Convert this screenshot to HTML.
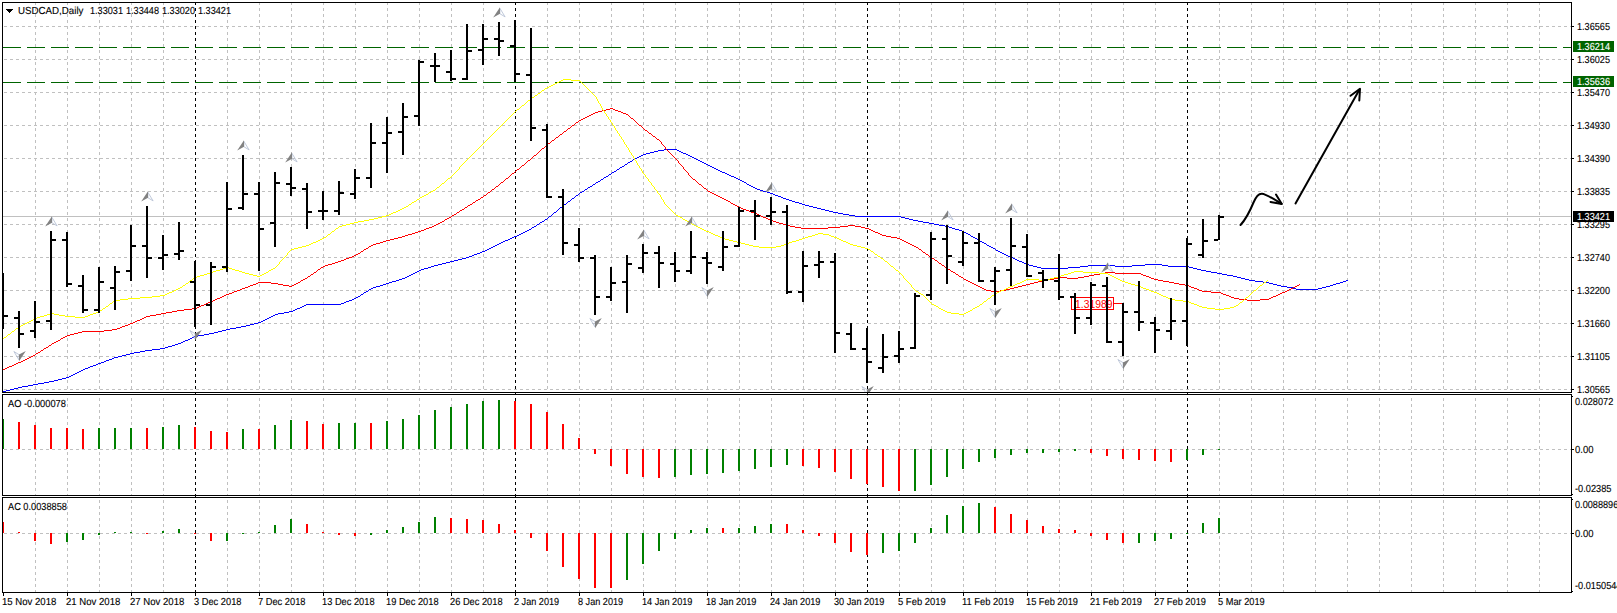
<!DOCTYPE html>
<html><head><meta charset="utf-8"><title>USDCAD,Daily</title>
<style>html,body{margin:0;padding:0;background:#fff;overflow:hidden}body{width:1617px;height:613px;position:relative;font-family:"Liberation Sans",sans-serif;font-size:10.2px;color:#000}svg{position:absolute;left:0;top:0;display:block}.t{position:absolute;white-space:pre;text-rendering:geometricPrecision;-webkit-text-stroke:0.12px currentColor;line-height:12px;height:12px;transform-origin:0 0;font-family:"Liberation Sans",sans-serif}.w{color:#fff}</style></head><body>
<svg width="1617" height="613" viewBox="0 0 1617 613">
<rect x="0" y="0" width="1617" height="613" fill="#fff"/>
<g shape-rendering="crispEdges" stroke="#c0c0c0" stroke-width="1" stroke-dasharray="3 3" fill="none">
<line x1="35.5" y1="2" x2="35.5" y2="592"/>
<line x1="67.5" y1="2" x2="67.5" y2="592"/>
<line x1="99.5" y1="2" x2="99.5" y2="592"/>
<line x1="131.5" y1="2" x2="131.5" y2="592"/>
<line x1="163.5" y1="2" x2="163.5" y2="592"/>
<line x1="227.5" y1="2" x2="227.5" y2="592"/>
<line x1="259.5" y1="2" x2="259.5" y2="592"/>
<line x1="291.5" y1="2" x2="291.5" y2="592"/>
<line x1="323.5" y1="2" x2="323.5" y2="592"/>
<line x1="355.5" y1="2" x2="355.5" y2="592"/>
<line x1="387.5" y1="2" x2="387.5" y2="592"/>
<line x1="419.5" y1="2" x2="419.5" y2="592"/>
<line x1="451.5" y1="2" x2="451.5" y2="592"/>
<line x1="483.5" y1="2" x2="483.5" y2="592"/>
<line x1="547.5" y1="2" x2="547.5" y2="592"/>
<line x1="579.5" y1="2" x2="579.5" y2="592"/>
<line x1="611.5" y1="2" x2="611.5" y2="592"/>
<line x1="643.5" y1="2" x2="643.5" y2="592"/>
<line x1="675.5" y1="2" x2="675.5" y2="592"/>
<line x1="707.5" y1="2" x2="707.5" y2="592"/>
<line x1="739.5" y1="2" x2="739.5" y2="592"/>
<line x1="771.5" y1="2" x2="771.5" y2="592"/>
<line x1="803.5" y1="2" x2="803.5" y2="592"/>
<line x1="835.5" y1="2" x2="835.5" y2="592"/>
<line x1="899.5" y1="2" x2="899.5" y2="592"/>
<line x1="931.5" y1="2" x2="931.5" y2="592"/>
<line x1="963.5" y1="2" x2="963.5" y2="592"/>
<line x1="995.5" y1="2" x2="995.5" y2="592"/>
<line x1="1027.5" y1="2" x2="1027.5" y2="592"/>
<line x1="1059.5" y1="2" x2="1059.5" y2="592"/>
<line x1="1091.5" y1="2" x2="1091.5" y2="592"/>
<line x1="1123.5" y1="2" x2="1123.5" y2="592"/>
<line x1="1155.5" y1="2" x2="1155.5" y2="592"/>
<line x1="1219.5" y1="2" x2="1219.5" y2="592"/>
<line x1="1251.5" y1="2" x2="1251.5" y2="592"/>
<line x1="1283.5" y1="2" x2="1283.5" y2="592"/>
<line x1="1315.5" y1="2" x2="1315.5" y2="592"/>
<line x1="1347.5" y1="2" x2="1347.5" y2="592"/>
<line x1="1379.5" y1="2" x2="1379.5" y2="592"/>
<line x1="1411.5" y1="2" x2="1411.5" y2="592"/>
<line x1="1443.5" y1="2" x2="1443.5" y2="592"/>
<line x1="1475.5" y1="2" x2="1475.5" y2="592"/>
<line x1="1507.5" y1="2" x2="1507.5" y2="592"/>
<line x1="1539.5" y1="2" x2="1539.5" y2="592"/>
<line x1="4" y1="26.5" x2="1571" y2="26.5"/>
<line x1="4" y1="59.5" x2="1571" y2="59.5"/>
<line x1="4" y1="92.5" x2="1571" y2="92.5"/>
<line x1="4" y1="125.5" x2="1571" y2="125.5"/>
<line x1="4" y1="158.5" x2="1571" y2="158.5"/>
<line x1="4" y1="191.5" x2="1571" y2="191.5"/>
<line x1="4" y1="224.5" x2="1571" y2="224.5"/>
<line x1="4" y1="257.5" x2="1571" y2="257.5"/>
<line x1="4" y1="290.5" x2="1571" y2="290.5"/>
<line x1="4" y1="323.5" x2="1571" y2="323.5"/>
<line x1="4" y1="356.5" x2="1571" y2="356.5"/>
<line x1="4" y1="389.5" x2="1571" y2="389.5"/>
<line x1="4" y1="449.5" x2="1571" y2="449.5"/>
<line x1="4" y1="533.5" x2="1571" y2="533.5"/>
</g>
<g shape-rendering="crispEdges" stroke="#000" stroke-width="1" stroke-dasharray="3 3" fill="none">
<line x1="195.5" y1="2" x2="195.5" y2="592"/>
<line x1="515.5" y1="2" x2="515.5" y2="592"/>
<line x1="867.5" y1="2" x2="867.5" y2="592"/>
<line x1="1187.5" y1="2" x2="1187.5" y2="592"/>
</g>
<rect x="3" y="216" width="1568" height="1" fill="#c0c0c0" shape-rendering="crispEdges"/>
<g shape-rendering="crispEdges" stroke="#006400" stroke-width="1" stroke-dasharray="18 6" fill="none">
<line x1="3" y1="47.5" x2="1571" y2="47.5"/>
<line x1="3" y1="82.5" x2="1571" y2="82.5"/>
</g>
<path shape-rendering="crispEdges" fill="none" stroke="#0000ff" stroke-width="1" transform="translate(0,0.5)" d="M664 149h13M658 150h6M677 150h2M654 151h4M679 151h2M650 152h4M681 152h2M646 153h4M683 153h3M643 154h3M686 154h2M641 155h2M688 155h2M639 156h2M690 156h2M637 157h2M692 157h2M635 158h2M694 158h2M633 159h2M696 159h2M632 160h1M698 160h2M630 161h2M700 161h2M628 162h2M702 162h2M627 163h1M704 163h2M625 164h2M706 164h2M624 165h1M708 165h2M622 166h2M710 166h2M620 167h2M712 167h2M619 168h1M714 168h2M617 169h2M716 169h2M616 170h1M718 170h2M614 171h2M720 171h2M612 172h2M722 172h3M611 173h1M725 173h2M609 174h2M727 174h2M608 175h1M729 175h2M606 176h2M731 176h3M604 177h2M734 177h2M603 178h1M736 178h2M601 179h2M738 179h2M600 180h1M740 180h2M598 181h2M742 181h2M596 182h2M744 182h2M595 183h1M746 183h1M593 184h2M747 184h2M592 185h1M749 185h2M590 186h2M751 186h2M588 187h2M753 187h2M587 188h1M755 188h2M585 189h2M757 189h3M584 190h1M760 190h3M582 191h2M763 191h4M580 192h2M767 192h3M579 193h1M770 193h3M578 194h1M773 194h2M576 195h2M775 195h3M575 196h1M778 196h3M574 197h1M781 197h2M572 198h2M783 198h3M571 199h1M786 199h3M570 200h1M789 200h3M568 201h2M792 201h3M567 202h1M795 202h4M566 203h1M799 203h3M564 204h2M802 204h3M563 205h1M805 205h4M562 206h1M809 206h4M560 207h2M813 207h4M559 208h1M817 208h4M558 209h1M821 209h4M557 210h1M825 210h4M556 211h1M829 211h4M554 212h2M833 212h5M553 213h1M838 213h5M552 214h1M843 214h6M551 215h1M849 215h6M549 216h2M855 216h46M548 217h1M901 217h4M547 218h1M905 218h4M545 219h2M909 219h4M544 220h1M913 220h5M542 221h2M918 221h5M540 222h2M923 222h6M539 223h1M929 223h5M537 224h2M934 224h5M536 225h1M939 225h6M534 226h2M945 226h4M532 227h2M949 227h3M531 228h1M952 228h3M529 229h2M955 229h4M527 230h2M959 230h3M525 231h2M962 231h2M523 232h2M964 232h2M521 233h2M966 233h2M519 234h2M968 234h2M517 235h2M970 235h1M514 236h3M971 236h2M512 237h2M973 237h2M510 238h2M975 238h2M508 239h2M977 239h2M505 240h3M979 240h1M503 241h2M980 241h2M501 242h2M982 242h2M499 243h2M984 243h2M497 244h2M986 244h1M495 245h2M987 245h2M493 246h2M989 246h2M491 247h2M991 247h2M489 248h2M993 248h2M487 249h2M995 249h1M485 250h2M996 250h2M482 251h3M998 251h2M480 252h2M1000 252h2M477 253h3M1002 253h2M474 254h3M1004 254h2M472 255h2M1006 255h2M469 256h3M1008 256h2M466 257h3M1010 257h3M462 258h4M1013 258h2M458 259h4M1015 259h2M454 260h4M1017 260h2M450 261h4M1019 261h3M446 262h4M1022 262h2M442 263h4M1024 263h2M438 264h4M1026 264h3M1145 264h17M434 265h4M1029 265h4M1088 265h27M1132 265h13M1162 265h6M431 266h3M1033 266h4M1080 266h8M1115 266h17M1168 266h21M428 267h3M1037 267h4M1068 267h12M1189 267h4M424 268h4M1041 268h27M1193 268h4M421 269h3M1197 269h4M419 270h2M1201 270h5M417 271h2M1206 271h5M415 272h2M1211 272h6M413 273h2M1217 273h5M411 274h2M1222 274h5M409 275h2M1227 275h6M407 276h2M1233 276h4M405 277h2M1237 277h4M402 278h3M1241 278h4M399 279h3M1245 279h4M396 280h3M1249 280h6M1346 280h2M392 281h4M1255 281h8M1343 281h3M389 282h3M1263 282h6M1340 282h3M386 283h3M1269 283h4M1336 283h4M383 284h3M1273 284h4M1333 284h3M380 285h3M1277 285h4M1330 285h3M376 286h4M1281 286h6M1326 286h4M373 287h3M1287 287h6M1322 287h4M371 288h2M1293 288h3M1318 288h4M369 289h2M1296 289h22M368 290h1M366 291h2M364 292h2M363 293h1M361 294h2M360 295h1M358 296h2M356 297h2M354 298h2M352 299h2M349 300h3M346 301h3M344 302h2M341 303h3M306 304h35M304 305h2M302 306h2M300 307h2M297 308h3M295 309h2M293 310h2M289 311h4M284 312h5M278 313h6M275 314h3M273 315h2M271 316h2M269 317h2M267 318h2M265 319h2M263 320h2M261 321h2M258 322h3M254 323h4M250 324h4M246 325h4M241 326h5M236 327h5M230 328h6M226 329h4M222 330h4M218 331h4M214 332h4M209 333h5M204 334h5M198 335h6M194 336h4M192 337h2M190 338h2M188 339h2M185 340h3M183 341h2M181 342h2M178 343h3M175 344h3M172 345h3M168 346h4M165 347h3M160 348h5M152 349h8M145 350h7M140 351h5M134 352h6M130 353h4M126 354h4M122 355h4M118 356h4M114 357h4M112 358h2M109 359h3M106 360h3M104 361h2M101 362h3M98 363h3M96 364h2M93 365h3M90 366h3M88 367h2M85 368h3M83 369h2M81 370h2M79 371h2M77 372h2M75 373h2M73 374h2M71 375h2M69 376h2M66 377h3M62 378h4M58 379h4M54 380h4M49 381h5M44 382h5M38 383h6M33 384h5M28 385h5M22 386h6M18 387h4M14 388h4M10 389h4M6 390h4M3 391h3"/>
<path shape-rendering="crispEdges" fill="none" stroke="#ff0000" stroke-width="1" transform="translate(0,0.5)" d="M610 108h3M606 109h4M613 109h2M602 110h4M615 110h3M598 111h4M618 111h3M595 112h3M621 112h2M593 113h2M623 113h3M591 114h2M626 114h2M589 115h2M628 115h1M587 116h2M629 116h1M585 117h2M630 117h1M583 118h2M631 118h2M581 119h2M633 119h1M579 120h2M634 120h1M578 121h1M635 121h1M576 122h2M636 122h1M575 123h1M637 123h1M574 124h1M638 124h1M572 125h2M639 125h2M571 126h1M641 126h1M570 127h1M642 127h1M568 128h2M643 128h1M567 129h1M644 129h1M566 130h1M645 130h2M564 131h2M647 131h1M563 132h1M648 132h1M562 133h1M649 133h2M560 134h2M651 134h1M559 135h1M652 135h1M558 136h1M653 136h2M556 137h2M655 137h1M555 138h1M656 138h1M554 139h1M657 139h2M552 140h2M659 140h1M551 141h1M660 141h1M550 142h1M661 142h1M548 143h2M661 143h1M547 144h1M662 144h1M546 145h1M663 145h1M545 146h1M664 146h1M544 147h1M665 147h1M542 148h2M665 148h1M541 149h1M666 149h1M540 150h1M667 150h1M539 151h1M668 151h1M538 152h1M669 152h1M537 153h1M670 153h1M536 154h1M671 154h1M534 155h2M672 155h1M533 156h1M673 156h1M532 157h1M674 157h1M531 158h1M675 158h1M530 159h1M676 159h1M528 160h2M677 160h1M527 161h1M678 161h1M526 162h1M678 162h1M525 163h1M679 163h1M524 164h1M680 164h1M522 165h2M681 165h1M521 166h1M682 166h1M520 167h1M683 167h1M519 168h1M683 168h1M517 169h2M684 169h1M516 170h1M685 170h1M515 171h1M686 171h1M514 172h1M687 172h1M512 173h2M688 173h1M511 174h1M688 174h1M510 175h1M689 175h1M509 176h1M690 176h1M508 177h1M691 177h1M506 178h2M692 178h1M505 179h1M693 179h2M504 180h1M695 180h1M503 181h1M696 181h1M501 182h2M697 182h1M500 183h1M698 183h1M499 184h1M699 184h2M498 185h1M701 185h1M496 186h2M702 186h1M495 187h1M703 187h1M494 188h1M704 188h2M492 189h2M706 189h1M491 190h1M707 190h1M490 191h1M708 191h2M488 192h2M710 192h2M487 193h1M712 193h2M486 194h1M714 194h2M484 195h2M716 195h2M483 196h1M718 196h2M481 197h2M720 197h2M480 198h1M722 198h2M478 199h2M724 199h2M476 200h2M726 200h2M475 201h1M728 201h2M473 202h2M730 202h1M472 203h1M731 203h2M470 204h2M733 204h2M468 205h2M735 205h2M467 206h1M737 206h2M465 207h2M739 207h2M464 208h1M741 208h2M462 209h2M743 209h3M460 210h2M746 210h3M459 211h1M749 211h2M457 212h2M751 212h3M456 213h1M754 213h3M454 214h2M757 214h2M452 215h2M759 215h2M451 216h1M761 216h2M449 217h2M763 217h3M447 218h2M766 218h2M445 219h2M768 219h2M444 220h1M770 220h3M442 221h2M773 221h3M440 222h2M776 222h3M438 223h2M779 223h4M436 224h2M783 224h3M434 225h2M786 225h4M848 225h7M432 226h2M790 226h5M840 226h8M855 226h6M429 227h3M795 227h6M828 227h12M861 227h4M426 228h3M801 228h27M865 228h4M424 229h2M869 229h2M421 230h3M871 230h2M418 231h3M873 231h2M415 232h3M875 232h3M412 233h3M878 233h2M408 234h4M880 234h2M405 235h3M882 235h4M402 236h3M886 236h5M398 237h4M891 237h6M394 238h4M897 238h3M390 239h4M900 239h2M386 240h4M902 240h2M383 241h3M904 241h2M380 242h3M906 242h2M376 243h4M908 243h2M373 244h3M910 244h2M371 245h2M912 245h2M369 246h2M914 246h2M368 247h1M916 247h2M366 248h2M918 248h1M364 249h2M919 249h2M363 250h1M921 250h1M361 251h2M922 251h1M360 252h1M923 252h2M358 253h2M925 253h1M356 254h2M926 254h2M354 255h2M928 255h1M352 256h2M929 256h2M349 257h3M931 257h1M346 258h3M932 258h2M344 259h2M934 259h1M341 260h3M935 260h2M338 261h3M937 261h1M335 262h3M938 262h1M332 263h3M939 263h2M328 264h4M941 264h1M325 265h3M942 265h2M323 266h2M944 266h1M321 267h2M945 267h2M320 268h1M947 268h1M318 269h2M948 269h2M317 270h1M950 270h1M316 271h1M951 271h2M314 272h2M953 272h2M1105 272h10M313 273h1M955 273h1M1100 273h5M1115 273h26M311 274h2M956 274h2M1094 274h6M1141 274h2M310 275h1M958 275h1M1089 275h5M1143 275h3M308 276h2M959 276h2M1084 276h5M1146 276h3M307 277h1M961 277h2M1058 277h9M1078 277h6M1149 277h2M305 278h2M963 278h1M1054 278h4M1067 278h11M1151 278h3M303 279h2M964 279h2M1048 279h6M1154 279h4M301 280h2M966 280h2M1042 280h6M1158 280h5M300 281h1M968 281h2M1038 281h4M1163 281h6M258 282h13M298 282h2M970 282h2M1034 282h4M1169 282h5M256 283h2M271 283h7M296 283h2M972 283h2M1030 283h4M1174 283h5M253 284h3M278 284h5M294 284h2M974 284h2M1026 284h4M1179 284h6M1299 284h1M250 285h3M283 285h6M292 285h2M976 285h2M1022 285h4M1185 285h4M1297 285h2M248 286h2M289 286h3M978 286h2M1018 286h4M1189 286h2M1295 286h2M245 287h3M980 287h2M1014 287h4M1191 287h3M1293 287h2M242 288h3M982 288h2M1010 288h4M1194 288h3M1291 288h2M240 289h2M984 289h2M1006 289h4M1197 289h2M1289 289h2M237 290h3M986 290h5M1000 290h6M1199 290h3M1287 290h2M234 291h3M991 291h9M1202 291h9M1285 291h2M232 292h2M1211 292h10M1282 292h3M229 293h3M1221 293h2M1280 293h2M226 294h3M1223 294h3M1278 294h2M224 295h2M1226 295h3M1276 295h2M222 296h2M1229 296h2M1273 296h3M220 297h2M1231 297h3M1271 297h2M217 298h3M1234 298h5M1269 298h2M215 299h2M1239 299h8M1260 299h9M213 300h2M1247 300h13M210 301h3M208 302h2M206 303h2M204 304h2M201 305h3M199 306h2M197 307h2M192 308h5M184 309h8M177 310h7M172 311h5M166 312h6M161 313h5M156 314h5M150 315h6M146 316h4M144 317h2M142 318h2M140 319h2M137 320h3M135 321h2M133 322h2M130 323h3M128 324h2M125 325h3M122 326h3M120 327h2M117 328h3M112 329h5M104 330h8M82 331h22M78 332h4M74 333h4M70 334h4M67 335h3M65 336h2M63 337h2M61 338h2M60 339h1M58 340h2M56 341h2M54 342h2M52 343h2M51 344h1M49 345h2M48 346h1M46 347h2M44 348h2M43 349h1M41 350h2M40 351h1M38 352h2M36 353h2M35 354h1M33 355h2M31 356h2M29 357h2M27 358h2M25 359h2M23 360h2M21 361h2M18 362h3M16 363h2M14 364h2M12 365h2M9 366h3M7 367h2M5 368h2M3 369h2"/>
<path shape-rendering="crispEdges" fill="none" stroke="#ffff00" stroke-width="1" transform="translate(0,0.5)" d="M563 79h8M561 80h2M571 80h9M559 81h2M580 81h1M557 82h2M581 82h1M555 83h2M582 83h1M553 84h2M583 84h1M551 85h2M584 85h1M549 86h2M585 86h1M547 87h2M586 87h1M545 88h2M587 88h1M544 89h1M588 89h1M542 90h2M589 90h1M541 91h1M590 91h1M540 92h1M591 92h1M538 93h2M592 93h1M537 94h1M593 94h1M535 95h2M594 95h1M534 96h1M595 96h1M532 97h2M596 97h1M531 98h1M596 98h1M530 99h1M597 99h1M528 100h2M597 100h1M527 101h1M598 101h1M526 102h1M598 102h1M525 103h1M599 103h1M524 104h1M600 104h1M522 105h2M600 105h1M521 106h1M601 106h1M520 107h1M601 107h1M519 108h1M602 108h1M517 109h2M602 109h1M516 110h1M603 110h1M515 111h1M604 111h1M514 112h1M604 112h1M513 113h1M605 113h1M512 114h1M606 114h1M511 115h1M606 115h1M510 116h1M607 116h1M509 117h1M608 117h1M508 118h1M608 118h1M507 119h1M609 119h1M506 120h1M610 120h1M505 121h1M610 121h1M504 122h1M611 122h1M503 123h1M612 123h1M502 124h1M612 124h1M501 125h1M613 125h1M500 126h1M614 126h1M499 127h1M614 127h1M498 128h1M615 128h1M497 129h1M615 129h1M496 130h1M616 130h1M495 131h1M617 131h1M494 132h1M617 132h1M493 133h1M618 133h1M492 134h1M619 134h1M491 135h1M619 135h1M490 136h1M620 136h1M489 137h1M621 137h1M488 138h1M621 138h1M487 139h1M622 139h1M486 140h1M623 140h1M485 141h1M623 141h1M484 142h1M624 142h1M483 143h1M624 143h1M482 144h1M625 144h1M481 145h1M626 145h1M480 146h1M626 146h1M479 147h1M627 147h1M478 148h1M628 148h1M477 149h1M628 149h1M476 150h1M629 150h1M475 151h1M629 151h1M474 152h1M630 152h1M473 153h1M631 153h1M472 154h1M631 154h1M471 155h1M632 155h1M470 156h1M633 156h1M469 157h1M633 157h1M468 158h1M634 158h1M467 159h1M634 159h1M466 160h1M635 160h1M465 161h1M636 161h1M464 162h1M636 162h1M463 163h1M637 163h1M462 164h1M637 164h1M461 165h1M638 165h1M460 166h1M639 166h1M459 167h1M639 167h1M459 168h1M640 168h1M458 169h1M641 169h1M457 170h1M641 170h1M456 171h1M642 171h1M455 172h1M642 172h1M454 173h1M643 173h1M453 174h1M644 174h1M452 175h1M645 175h1M451 176h1M645 176h1M450 177h1M646 177h1M448 178h2M647 178h1M447 179h1M648 179h1M446 180h1M648 180h1M445 181h1M649 181h1M444 182h1M650 182h1M442 183h2M651 183h1M441 184h1M651 184h1M440 185h1M652 185h1M439 186h1M653 186h1M437 187h2M654 187h1M436 188h1M654 188h1M435 189h1M655 189h1M433 190h2M656 190h1M431 191h2M657 191h1M429 192h2M657 192h1M428 193h1M658 193h1M426 194h2M659 194h1M424 195h2M660 195h1M422 196h2M660 196h1M420 197h2M661 197h1M419 198h1M661 198h1M417 199h2M662 199h1M416 200h1M663 200h1M414 201h2M663 201h1M412 202h2M664 202h1M411 203h1M664 203h1M409 204h2M665 204h1M408 205h1M666 205h1M406 206h2M667 206h1M404 207h2M668 207h1M402 208h2M669 208h1M400 209h2M670 209h1M398 210h2M671 210h1M396 211h2M672 211h1M393 212h3M673 212h1M391 213h2M674 213h1M389 214h2M675 214h1M386 215h3M676 215h2M382 216h4M678 216h2M378 217h4M680 217h2M374 218h4M682 218h1M369 219h5M683 219h2M364 220h5M685 220h2M358 221h6M687 221h2M354 222h4M689 222h2M350 223h4M691 223h1M346 224h4M692 224h2M342 225h4M694 225h2M339 226h3M696 226h2M338 227h1M698 227h2M336 228h2M700 228h2M335 229h1M702 229h2M334 230h1M704 230h2M332 231h2M706 231h3M331 232h1M709 232h2M330 233h1M711 233h2M818 233h5M328 234h2M713 234h2M815 234h3M823 234h6M327 235h1M715 235h3M812 235h3M829 235h2M326 236h1M718 236h2M808 236h4M831 236h3M324 237h2M720 237h2M805 237h3M834 237h3M322 238h2M722 238h3M802 238h3M837 238h2M320 239h2M725 239h4M799 239h3M839 239h2M318 240h2M729 240h4M796 240h3M841 240h2M316 241h2M733 241h4M792 241h4M843 241h3M313 242h3M737 242h4M789 242h3M846 242h2M311 243h2M741 243h4M786 243h3M848 243h2M309 244h2M745 244h4M784 244h2M850 244h3M306 245h3M749 245h4M781 245h3M853 245h4M302 246h4M753 246h6M776 246h5M857 246h4M298 247h4M759 247h17M861 247h4M294 248h4M865 248h3M291 249h3M868 249h2M290 250h1M870 250h1M289 251h1M871 251h2M288 252h1M873 252h1M287 253h1M874 253h1M287 254h1M875 254h2M286 255h1M877 255h1M285 256h1M878 256h2M284 257h1M880 257h1M283 258h1M881 258h2M282 259h1M883 259h1M281 260h1M884 260h1M280 261h1M885 261h2M279 262h1M887 262h1M279 263h1M888 263h1M278 264h1M889 264h1M277 265h1M890 265h1M276 266h1M891 266h2M226 267h3M275 267h1M893 267h1M223 268h3M229 268h3M273 268h2M894 268h1M220 269h3M232 269h3M271 269h2M895 269h1M216 270h4M235 270h4M269 270h2M896 270h2M213 271h3M239 271h3M268 271h1M898 271h1M1074 271h9M210 272h3M242 272h3M266 272h2M899 272h1M1071 272h3M1083 272h16M207 273h3M245 273h4M264 273h2M900 273h1M1068 273h3M1099 273h9M204 274h3M249 274h4M262 274h2M901 274h1M1064 274h4M1108 274h2M200 275h4M253 275h4M260 275h2M902 275h1M1061 275h3M1110 275h2M197 276h3M257 276h3M903 276h1M1058 276h3M1112 276h2M195 277h2M903 277h1M1054 277h4M1114 277h2M193 278h2M904 278h1M1050 278h4M1116 278h2M192 279h1M905 279h1M1026 279h13M1046 279h4M1118 279h2M190 280h2M906 280h1M1024 280h2M1039 280h7M1120 280h2M1267 280h1M189 281h1M907 281h1M1022 281h2M1122 281h3M1266 281h1M188 282h1M908 282h1M1020 282h2M1125 282h3M1264 282h2M186 283h2M909 283h1M1017 283h3M1128 283h3M1263 283h1M185 284h1M910 284h1M1015 284h2M1131 284h4M1262 284h1M183 285h2M911 285h1M1013 285h2M1135 285h3M1260 285h2M182 286h1M911 286h1M1010 286h3M1138 286h3M1259 286h1M180 287h2M912 287h1M1008 287h2M1141 287h2M1258 287h1M178 288h2M913 288h1M1006 288h2M1143 288h3M1257 288h1M176 289h2M914 289h1M1004 289h2M1146 289h3M1256 289h1M174 290h2M915 290h1M1001 290h3M1149 290h2M1254 290h2M172 291h2M916 291h2M999 291h2M1151 291h3M1253 291h1M169 292h3M918 292h1M997 292h2M1154 292h3M1252 292h1M167 293h2M919 293h2M995 293h2M1157 293h2M1251 293h1M165 294h2M921 294h2M994 294h1M1159 294h2M1250 294h1M160 295h5M923 295h1M992 295h2M1161 295h2M1249 295h1M152 296h8M924 296h1M991 296h1M1163 296h3M1248 296h1M140 297h12M925 297h1M990 297h1M1166 297h2M1246 297h2M128 298h12M926 298h1M988 298h2M1168 298h2M1245 298h1M120 299h8M927 299h1M987 299h1M1170 299h5M1244 299h1M115 300h5M928 300h1M986 300h1M1175 300h8M1243 300h1M113 301h2M929 301h1M984 301h2M1183 301h6M1242 301h1M112 302h1M930 302h1M983 302h1M1189 302h2M1240 302h2M110 303h2M931 303h1M982 303h1M1191 303h3M1239 303h1M109 304h1M932 304h2M980 304h2M1194 304h3M1238 304h1M108 305h1M934 305h2M979 305h1M1197 305h2M1236 305h2M106 306h2M936 306h2M977 306h2M1199 306h3M1234 306h2M105 307h1M938 307h1M975 307h2M1202 307h5M1230 307h4M103 308h2M939 308h2M973 308h2M1207 308h8M1224 308h6M102 309h1M941 309h2M972 309h1M1215 309h9M100 310h2M943 310h2M970 310h2M98 311h2M945 311h2M968 311h2M96 312h2M947 312h4M966 312h2M50 313h4M93 313h3M951 313h8M964 313h2M47 314h3M54 314h5M90 314h3M959 314h5M44 315h3M59 315h6M88 315h2M40 316h4M65 316h10M85 316h3M37 317h3M75 317h10M35 318h2M33 319h2M31 320h2M29 321h2M27 322h2M25 323h2M23 324h2M21 325h2M19 326h2M18 327h1M16 328h2M15 329h1M14 330h1M12 331h2M11 332h1M10 333h1M8 334h2M7 335h1M6 336h1M4 337h2M3 338h1"/>
<g shape-rendering="crispEdges">
<rect x="1071.5" y="297.5" width="42" height="12" fill="none" stroke="#ff0000" stroke-width="1"/>
<rect x="1114" y="303" width="10" height="1" fill="#ff0000"/>
</g>
<text x="1075" y="308" font-family="Liberation Sans, sans-serif" font-size="11" fill="#ff0000" textLength="37.4" lengthAdjust="spacingAndGlyphs">1.31989</text>
<g shape-rendering="crispEdges" fill="#000">
<rect x="2" y="273" width="2" height="56"/>
<rect x="4" y="315" width="4" height="2"/>
<rect x="18" y="311" width="2" height="37"/>
<rect x="14" y="317" width="4" height="2"/>
<rect x="20" y="333" width="4" height="2"/>
<rect x="34" y="301" width="2" height="37"/>
<rect x="30" y="330" width="4" height="2"/>
<rect x="36" y="321" width="4" height="2"/>
<rect x="50" y="231" width="2" height="99"/>
<rect x="46" y="320" width="4" height="2"/>
<rect x="52" y="239" width="4" height="2"/>
<rect x="66" y="232" width="2" height="55"/>
<rect x="62" y="239" width="4" height="2"/>
<rect x="68" y="283" width="4" height="2"/>
<rect x="82" y="275" width="2" height="38"/>
<rect x="78" y="285" width="4" height="2"/>
<rect x="84" y="309" width="4" height="2"/>
<rect x="98" y="267" width="2" height="46"/>
<rect x="94" y="309" width="4" height="2"/>
<rect x="100" y="281" width="4" height="2"/>
<rect x="114" y="266" width="2" height="44"/>
<rect x="110" y="287" width="4" height="2"/>
<rect x="116" y="271" width="4" height="2"/>
<rect x="130" y="225" width="2" height="56"/>
<rect x="126" y="270" width="4" height="2"/>
<rect x="132" y="245" width="4" height="2"/>
<rect x="146" y="206" width="2" height="72"/>
<rect x="142" y="245" width="4" height="2"/>
<rect x="148" y="257" width="4" height="2"/>
<rect x="162" y="235" width="2" height="35"/>
<rect x="158" y="257" width="4" height="2"/>
<rect x="164" y="254" width="4" height="2"/>
<rect x="178" y="222" width="2" height="38"/>
<rect x="174" y="253" width="4" height="2"/>
<rect x="180" y="250" width="4" height="2"/>
<rect x="194" y="261" width="2" height="66"/>
<rect x="190" y="281" width="4" height="2"/>
<rect x="196" y="304" width="4" height="2"/>
<rect x="210" y="262" width="2" height="63"/>
<rect x="206" y="304" width="4" height="2"/>
<rect x="212" y="266" width="4" height="2"/>
<rect x="226" y="182" width="2" height="90"/>
<rect x="222" y="266" width="4" height="2"/>
<rect x="228" y="208" width="4" height="2"/>
<rect x="242" y="155" width="2" height="55"/>
<rect x="238" y="207" width="4" height="2"/>
<rect x="244" y="193" width="4" height="2"/>
<rect x="258" y="182" width="2" height="89"/>
<rect x="254" y="193" width="4" height="2"/>
<rect x="260" y="228" width="4" height="2"/>
<rect x="274" y="172" width="2" height="75"/>
<rect x="270" y="222" width="4" height="2"/>
<rect x="276" y="182" width="4" height="2"/>
<rect x="290" y="167" width="2" height="29"/>
<rect x="286" y="183" width="4" height="2"/>
<rect x="292" y="187" width="4" height="2"/>
<rect x="306" y="183" width="2" height="46"/>
<rect x="302" y="188" width="4" height="2"/>
<rect x="308" y="211" width="4" height="2"/>
<rect x="322" y="191" width="2" height="29"/>
<rect x="318" y="210" width="4" height="2"/>
<rect x="324" y="210" width="4" height="2"/>
<rect x="338" y="181" width="2" height="34"/>
<rect x="334" y="210" width="4" height="2"/>
<rect x="340" y="192" width="4" height="2"/>
<rect x="354" y="169" width="2" height="30"/>
<rect x="350" y="193" width="4" height="2"/>
<rect x="356" y="177" width="4" height="2"/>
<rect x="370" y="123" width="2" height="65"/>
<rect x="366" y="177" width="4" height="2"/>
<rect x="372" y="142" width="4" height="2"/>
<rect x="386" y="117" width="2" height="56"/>
<rect x="382" y="142" width="4" height="2"/>
<rect x="388" y="132" width="4" height="2"/>
<rect x="402" y="103" width="2" height="52"/>
<rect x="398" y="131" width="4" height="2"/>
<rect x="404" y="116" width="4" height="2"/>
<rect x="418" y="60" width="2" height="66"/>
<rect x="414" y="115" width="4" height="2"/>
<rect x="420" y="61" width="4" height="2"/>
<rect x="434" y="53" width="2" height="29"/>
<rect x="430" y="65" width="4" height="2"/>
<rect x="436" y="65" width="4" height="2"/>
<rect x="450" y="50" width="2" height="31"/>
<rect x="446" y="71" width="4" height="2"/>
<rect x="452" y="78" width="4" height="2"/>
<rect x="466" y="24" width="2" height="56"/>
<rect x="462" y="78" width="4" height="2"/>
<rect x="468" y="50" width="4" height="2"/>
<rect x="482" y="24" width="2" height="41"/>
<rect x="478" y="49" width="4" height="2"/>
<rect x="484" y="38" width="4" height="2"/>
<rect x="498" y="22" width="2" height="34"/>
<rect x="494" y="38" width="4" height="2"/>
<rect x="500" y="40" width="4" height="2"/>
<rect x="514" y="20" width="2" height="62"/>
<rect x="510" y="45" width="4" height="2"/>
<rect x="516" y="73" width="4" height="2"/>
<rect x="530" y="28" width="2" height="113"/>
<rect x="526" y="74" width="4" height="2"/>
<rect x="532" y="127" width="4" height="2"/>
<rect x="546" y="124" width="2" height="74"/>
<rect x="542" y="129" width="4" height="2"/>
<rect x="548" y="196" width="4" height="2"/>
<rect x="562" y="189" width="2" height="66"/>
<rect x="558" y="196" width="4" height="2"/>
<rect x="564" y="242" width="4" height="2"/>
<rect x="578" y="228" width="2" height="34"/>
<rect x="574" y="244" width="4" height="2"/>
<rect x="580" y="257" width="4" height="2"/>
<rect x="594" y="255" width="2" height="60"/>
<rect x="590" y="257" width="4" height="2"/>
<rect x="596" y="296" width="4" height="2"/>
<rect x="610" y="267" width="2" height="34"/>
<rect x="606" y="296" width="4" height="2"/>
<rect x="612" y="282" width="4" height="2"/>
<rect x="626" y="255" width="2" height="58"/>
<rect x="622" y="281" width="4" height="2"/>
<rect x="628" y="263" width="4" height="2"/>
<rect x="642" y="244" width="2" height="29"/>
<rect x="638" y="267" width="4" height="2"/>
<rect x="644" y="252" width="4" height="2"/>
<rect x="658" y="246" width="2" height="42"/>
<rect x="654" y="252" width="4" height="2"/>
<rect x="660" y="262" width="4" height="2"/>
<rect x="674" y="252" width="2" height="30"/>
<rect x="670" y="263" width="4" height="2"/>
<rect x="676" y="270" width="4" height="2"/>
<rect x="690" y="231" width="2" height="43"/>
<rect x="686" y="270" width="4" height="2"/>
<rect x="692" y="256" width="4" height="2"/>
<rect x="706" y="252" width="2" height="32"/>
<rect x="702" y="257" width="4" height="2"/>
<rect x="708" y="262" width="4" height="2"/>
<rect x="722" y="231" width="2" height="40"/>
<rect x="718" y="266" width="4" height="2"/>
<rect x="724" y="246" width="4" height="2"/>
<rect x="738" y="207" width="2" height="40"/>
<rect x="734" y="245" width="4" height="2"/>
<rect x="740" y="210" width="4" height="2"/>
<rect x="754" y="200" width="2" height="40"/>
<rect x="750" y="210" width="4" height="2"/>
<rect x="756" y="215" width="4" height="2"/>
<rect x="770" y="197" width="2" height="28"/>
<rect x="766" y="215" width="4" height="2"/>
<rect x="772" y="211" width="4" height="2"/>
<rect x="786" y="205" width="2" height="89"/>
<rect x="782" y="211" width="4" height="2"/>
<rect x="788" y="291" width="4" height="2"/>
<rect x="802" y="251" width="2" height="51"/>
<rect x="798" y="291" width="4" height="2"/>
<rect x="804" y="265" width="4" height="2"/>
<rect x="818" y="251" width="2" height="27"/>
<rect x="814" y="264" width="4" height="2"/>
<rect x="820" y="261" width="4" height="2"/>
<rect x="834" y="253" width="2" height="100"/>
<rect x="830" y="261" width="4" height="2"/>
<rect x="836" y="332" width="4" height="2"/>
<rect x="850" y="323" width="2" height="27"/>
<rect x="846" y="333" width="4" height="2"/>
<rect x="852" y="348" width="4" height="2"/>
<rect x="866" y="328" width="2" height="55"/>
<rect x="862" y="348" width="4" height="2"/>
<rect x="868" y="361" width="4" height="2"/>
<rect x="882" y="334" width="2" height="39"/>
<rect x="878" y="367" width="4" height="2"/>
<rect x="884" y="356" width="4" height="2"/>
<rect x="898" y="331" width="2" height="32"/>
<rect x="894" y="355" width="4" height="2"/>
<rect x="900" y="348" width="4" height="2"/>
<rect x="914" y="293" width="2" height="56"/>
<rect x="910" y="347" width="4" height="2"/>
<rect x="916" y="295" width="4" height="2"/>
<rect x="930" y="232" width="2" height="68"/>
<rect x="926" y="294" width="4" height="2"/>
<rect x="932" y="238" width="4" height="2"/>
<rect x="946" y="225" width="2" height="59"/>
<rect x="942" y="238" width="4" height="2"/>
<rect x="948" y="255" width="4" height="2"/>
<rect x="962" y="231" width="2" height="35"/>
<rect x="958" y="261" width="4" height="2"/>
<rect x="964" y="242" width="4" height="2"/>
<rect x="978" y="233" width="2" height="49"/>
<rect x="974" y="242" width="4" height="2"/>
<rect x="980" y="280" width="4" height="2"/>
<rect x="994" y="267" width="2" height="38"/>
<rect x="990" y="280" width="4" height="2"/>
<rect x="996" y="270" width="4" height="2"/>
<rect x="1010" y="218" width="2" height="68"/>
<rect x="1006" y="269" width="4" height="2"/>
<rect x="1012" y="245" width="4" height="2"/>
<rect x="1026" y="234" width="2" height="43"/>
<rect x="1022" y="246" width="4" height="2"/>
<rect x="1028" y="275" width="4" height="2"/>
<rect x="1042" y="270" width="2" height="18"/>
<rect x="1038" y="272" width="4" height="2"/>
<rect x="1044" y="279" width="4" height="2"/>
<rect x="1058" y="254" width="2" height="46"/>
<rect x="1054" y="280" width="4" height="2"/>
<rect x="1060" y="296" width="4" height="2"/>
<rect x="1074" y="293" width="2" height="41"/>
<rect x="1070" y="296" width="4" height="2"/>
<rect x="1076" y="317" width="4" height="2"/>
<rect x="1090" y="282" width="2" height="43"/>
<rect x="1086" y="317" width="4" height="2"/>
<rect x="1092" y="284" width="4" height="2"/>
<rect x="1106" y="277" width="2" height="66"/>
<rect x="1102" y="285" width="4" height="2"/>
<rect x="1108" y="341" width="4" height="2"/>
<rect x="1122" y="303" width="2" height="53"/>
<rect x="1118" y="341" width="4" height="2"/>
<rect x="1124" y="311" width="4" height="2"/>
<rect x="1138" y="281" width="2" height="50"/>
<rect x="1134" y="311" width="4" height="2"/>
<rect x="1140" y="321" width="4" height="2"/>
<rect x="1154" y="317" width="2" height="36"/>
<rect x="1150" y="322" width="4" height="2"/>
<rect x="1156" y="329" width="4" height="2"/>
<rect x="1170" y="298" width="2" height="42"/>
<rect x="1166" y="330" width="4" height="2"/>
<rect x="1172" y="320" width="4" height="2"/>
<rect x="1186" y="238" width="2" height="108"/>
<rect x="1182" y="320" width="4" height="2"/>
<rect x="1188" y="243" width="4" height="2"/>
<rect x="1202" y="219" width="2" height="39"/>
<rect x="1198" y="254" width="4" height="2"/>
<rect x="1204" y="240" width="4" height="2"/>
<rect x="1218" y="215" width="2" height="25"/>
<rect x="1214" y="239" width="4" height="2"/>
<rect x="1220" y="216" width="4" height="2"/>
</g>
<g>
<polygon points="51.9,217.3 57.1,225.9 51.9,222.7" fill="none" stroke="#b9c3d6" stroke-width="0.9" stroke-linejoin="round"/>
<polygon points="52,216.2 45.2,226.4 52,222.8" fill="#828282"/>
<polygon points="147.9,192.3 153.1,200.9 147.9,197.7" fill="none" stroke="#b9c3d6" stroke-width="0.9" stroke-linejoin="round"/>
<polygon points="148,191.2 141.2,201.4 148,197.8" fill="#828282"/>
<polygon points="243.9,141.3 249.1,149.9 243.9,146.7" fill="none" stroke="#b9c3d6" stroke-width="0.9" stroke-linejoin="round"/>
<polygon points="244,140.2 237.2,150.4 244,146.8" fill="#828282"/>
<polygon points="291.9,153.3 297.1,161.9 291.9,158.7" fill="none" stroke="#b9c3d6" stroke-width="0.9" stroke-linejoin="round"/>
<polygon points="292,152.2 285.2,162.4 292,158.8" fill="#828282"/>
<polygon points="499.9,8.3 505.1,16.9 499.9,13.7" fill="none" stroke="#b9c3d6" stroke-width="0.9" stroke-linejoin="round"/>
<polygon points="500,7.2 493.2,17.4 500,13.8" fill="#828282"/>
<polygon points="643.9,230.3 649.1,238.9 643.9,235.7" fill="none" stroke="#b9c3d6" stroke-width="0.9" stroke-linejoin="round"/>
<polygon points="644,229.2 637.2,239.4 644,235.8" fill="#828282"/>
<polygon points="691.9,217.3 697.1,225.9 691.9,222.7" fill="none" stroke="#b9c3d6" stroke-width="0.9" stroke-linejoin="round"/>
<polygon points="692,216.2 685.2,226.4 692,222.8" fill="#828282"/>
<polygon points="771.9,183.3 777.1,191.9 771.9,188.7" fill="none" stroke="#b9c3d6" stroke-width="0.9" stroke-linejoin="round"/>
<polygon points="772,182.2 765.2,192.4 772,188.8" fill="#828282"/>
<polygon points="947.9,211.3 953.1,219.9 947.9,216.7" fill="none" stroke="#b9c3d6" stroke-width="0.9" stroke-linejoin="round"/>
<polygon points="948,210.2 941.2,220.4 948,216.8" fill="#828282"/>
<polygon points="1011.9,204.3 1017.1,212.9 1011.9,209.7" fill="none" stroke="#b9c3d6" stroke-width="0.9" stroke-linejoin="round"/>
<polygon points="1012,203.2 1005.2,213.4 1012,209.8" fill="#828282"/>
<polygon points="1107.9,263.3 1113.1,271.9 1107.9,268.7" fill="none" stroke="#b9c3d6" stroke-width="0.9" stroke-linejoin="round"/>
<polygon points="1108,262.2 1101.2,272.4 1108,268.8" fill="#828282"/>
<polygon points="19.1,360.1 13.9,351.5 19.1,354.7" fill="none" stroke="#b9c3d6" stroke-width="0.9" stroke-linejoin="round"/>
<polygon points="19,361.2 25.8,351 19,354.6" fill="#828282"/>
<polygon points="195.1,339.1 189.9,330.5 195.1,333.7" fill="none" stroke="#b9c3d6" stroke-width="0.9" stroke-linejoin="round"/>
<polygon points="195,340.2 201.8,330 195,333.6" fill="#828282"/>
<polygon points="595.1,327.1 589.9,318.5 595.1,321.7" fill="none" stroke="#b9c3d6" stroke-width="0.9" stroke-linejoin="round"/>
<polygon points="595,328.2 601.8,318 595,321.6" fill="#828282"/>
<polygon points="707.1,296.1 701.9,287.5 707.1,290.7" fill="none" stroke="#b9c3d6" stroke-width="0.9" stroke-linejoin="round"/>
<polygon points="707,297.2 713.8,287 707,290.6" fill="#828282"/>
<polygon points="867.1,395.1 861.9,386.5 867.1,389.7" fill="none" stroke="#b9c3d6" stroke-width="0.9" stroke-linejoin="round"/>
<polygon points="867,396.2 873.8,386 867,389.6" fill="#828282"/>
<polygon points="995.1,317.1 989.9,308.5 995.1,311.7" fill="none" stroke="#b9c3d6" stroke-width="0.9" stroke-linejoin="round"/>
<polygon points="995,318.2 1001.8,308 995,311.6" fill="#828282"/>
<polygon points="1123.1,368.1 1117.9,359.5 1123.1,362.7" fill="none" stroke="#b9c3d6" stroke-width="0.9" stroke-linejoin="round"/>
<polygon points="1123,369.2 1129.8,359 1123,362.6" fill="#828282"/>
</g>
<g fill="none" stroke="#000" stroke-width="2" stroke-linecap="round" stroke-linejoin="round">
<path d="M1240.5,225 C1247,218 1250,211 1253.5,202.5 C1256,196.5 1259,193.5 1262,193.7 C1266,194 1273,198.5 1281.5,203.8"/>
<path d="M1276,194.5 L1281.8,204 L1270.5,202"/>
<path d="M1295.5,203.5 L1359.5,89.5"/>
<path d="M1350.5,95.8 L1360,88.8 L1359.3,100.5"/>
</g>
<g shape-rendering="crispEdges">
<rect x="2" y="419" width="2" height="30" fill="#008000"/>
<rect x="18" y="422" width="2" height="27" fill="#ff0000"/>
<rect x="34" y="425" width="2" height="24" fill="#ff0000"/>
<rect x="50" y="428" width="2" height="21" fill="#ff0000"/>
<rect x="66" y="428" width="2" height="21" fill="#ff0000"/>
<rect x="82" y="429" width="2" height="20" fill="#ff0000"/>
<rect x="98" y="428" width="2" height="21" fill="#008000"/>
<rect x="114" y="428" width="2" height="21" fill="#008000"/>
<rect x="130" y="428" width="2" height="21" fill="#008000"/>
<rect x="146" y="428" width="2" height="21" fill="#ff0000"/>
<rect x="162" y="427" width="2" height="22" fill="#008000"/>
<rect x="178" y="425" width="2" height="24" fill="#008000"/>
<rect x="194" y="427" width="2" height="22" fill="#ff0000"/>
<rect x="210" y="431" width="2" height="18" fill="#ff0000"/>
<rect x="226" y="432" width="2" height="17" fill="#ff0000"/>
<rect x="242" y="429" width="2" height="20" fill="#008000"/>
<rect x="258" y="429" width="2" height="20" fill="#ff0000"/>
<rect x="274" y="425" width="2" height="24" fill="#008000"/>
<rect x="290" y="420" width="2" height="29" fill="#008000"/>
<rect x="306" y="421" width="2" height="28" fill="#ff0000"/>
<rect x="322" y="424" width="2" height="25" fill="#ff0000"/>
<rect x="338" y="423" width="2" height="26" fill="#008000"/>
<rect x="354" y="423" width="2" height="26" fill="#008000"/>
<rect x="370" y="423" width="2" height="26" fill="#ff0000"/>
<rect x="386" y="421" width="2" height="28" fill="#008000"/>
<rect x="402" y="419" width="2" height="30" fill="#008000"/>
<rect x="418" y="415" width="2" height="34" fill="#008000"/>
<rect x="434" y="410" width="2" height="39" fill="#008000"/>
<rect x="450" y="407" width="2" height="42" fill="#008000"/>
<rect x="466" y="404" width="2" height="45" fill="#008000"/>
<rect x="482" y="401" width="2" height="48" fill="#008000"/>
<rect x="498" y="400" width="2" height="49" fill="#008000"/>
<rect x="514" y="401" width="2" height="48" fill="#ff0000"/>
<rect x="530" y="404" width="2" height="45" fill="#ff0000"/>
<rect x="546" y="412" width="2" height="37" fill="#ff0000"/>
<rect x="562" y="424" width="2" height="25" fill="#ff0000"/>
<rect x="578" y="438" width="2" height="11" fill="#ff0000"/>
<rect x="594" y="449" width="2" height="5" fill="#ff0000"/>
<rect x="610" y="449" width="2" height="17" fill="#ff0000"/>
<rect x="626" y="449" width="2" height="25" fill="#ff0000"/>
<rect x="642" y="449" width="2" height="28" fill="#ff0000"/>
<rect x="658" y="449" width="2" height="29" fill="#ff0000"/>
<rect x="674" y="449" width="2" height="28" fill="#008000"/>
<rect x="690" y="449" width="2" height="26" fill="#008000"/>
<rect x="706" y="449" width="2" height="25" fill="#008000"/>
<rect x="722" y="449" width="2" height="24" fill="#008000"/>
<rect x="738" y="449" width="2" height="22" fill="#008000"/>
<rect x="754" y="449" width="2" height="20" fill="#008000"/>
<rect x="770" y="449" width="2" height="18" fill="#008000"/>
<rect x="786" y="449" width="2" height="16" fill="#008000"/>
<rect x="802" y="449" width="2" height="17" fill="#ff0000"/>
<rect x="818" y="449" width="2" height="19" fill="#ff0000"/>
<rect x="834" y="449" width="2" height="23" fill="#ff0000"/>
<rect x="850" y="449" width="2" height="30" fill="#ff0000"/>
<rect x="866" y="449" width="2" height="35" fill="#ff0000"/>
<rect x="882" y="449" width="2" height="38" fill="#ff0000"/>
<rect x="898" y="449" width="2" height="42" fill="#ff0000"/>
<rect x="914" y="449" width="2" height="42" fill="#008000"/>
<rect x="930" y="449" width="2" height="36" fill="#008000"/>
<rect x="946" y="449" width="2" height="28" fill="#008000"/>
<rect x="962" y="449" width="2" height="20" fill="#008000"/>
<rect x="978" y="449" width="2" height="13" fill="#008000"/>
<rect x="994" y="449" width="2" height="9" fill="#008000"/>
<rect x="1010" y="449" width="2" height="6" fill="#008000"/>
<rect x="1026" y="449" width="2" height="4" fill="#008000"/>
<rect x="1042" y="449" width="2" height="4" fill="#008000"/>
<rect x="1058" y="449" width="2" height="3" fill="#008000"/>
<rect x="1074" y="449" width="2" height="2" fill="#008000"/>
<rect x="1090" y="449" width="2" height="4" fill="#ff0000"/>
<rect x="1106" y="449" width="2" height="7" fill="#ff0000"/>
<rect x="1122" y="449" width="2" height="10" fill="#ff0000"/>
<rect x="1138" y="449" width="2" height="11" fill="#ff0000"/>
<rect x="1154" y="449" width="2" height="12" fill="#ff0000"/>
<rect x="1170" y="449" width="2" height="13" fill="#ff0000"/>
<rect x="1186" y="449" width="2" height="11" fill="#008000"/>
<rect x="1202" y="449" width="2" height="6" fill="#008000"/>
<rect x="1218" y="449" width="2" height="1" fill="#008000"/>
<rect x="2" y="522" width="2" height="11" fill="#ff0000"/>
<rect x="18" y="532" width="2" height="1" fill="#ff0000"/>
<rect x="34" y="533" width="2" height="8" fill="#ff0000"/>
<rect x="50" y="533" width="2" height="11" fill="#ff0000"/>
<rect x="66" y="533" width="2" height="9" fill="#008000"/>
<rect x="82" y="533" width="2" height="7" fill="#008000"/>
<rect x="98" y="533" width="2" height="2" fill="#008000"/>
<rect x="114" y="532" width="2" height="1" fill="#008000"/>
<rect x="130" y="532" width="2" height="1" fill="#008000"/>
<rect x="146" y="533" width="2" height="1" fill="#ff0000"/>
<rect x="162" y="531" width="2" height="2" fill="#008000"/>
<rect x="178" y="529" width="2" height="4" fill="#008000"/>
<rect x="194" y="533" width="2" height="1" fill="#ff0000"/>
<rect x="210" y="533" width="2" height="8" fill="#ff0000"/>
<rect x="226" y="533" width="2" height="8" fill="#008000"/>
<rect x="242" y="533" width="2" height="1" fill="#008000"/>
<rect x="258" y="532" width="2" height="1" fill="#008000"/>
<rect x="274" y="525" width="2" height="8" fill="#008000"/>
<rect x="290" y="519" width="2" height="14" fill="#008000"/>
<rect x="306" y="524" width="2" height="9" fill="#ff0000"/>
<rect x="322" y="532" width="2" height="1" fill="#ff0000"/>
<rect x="338" y="533" width="2" height="2" fill="#ff0000"/>
<rect x="354" y="533" width="2" height="3" fill="#ff0000"/>
<rect x="370" y="533" width="2" height="2" fill="#008000"/>
<rect x="386" y="530" width="2" height="3" fill="#008000"/>
<rect x="402" y="527" width="2" height="6" fill="#008000"/>
<rect x="418" y="522" width="2" height="11" fill="#008000"/>
<rect x="434" y="517" width="2" height="16" fill="#008000"/>
<rect x="450" y="518" width="2" height="15" fill="#ff0000"/>
<rect x="466" y="519" width="2" height="14" fill="#ff0000"/>
<rect x="482" y="520" width="2" height="13" fill="#ff0000"/>
<rect x="498" y="524" width="2" height="9" fill="#ff0000"/>
<rect x="514" y="530" width="2" height="3" fill="#ff0000"/>
<rect x="530" y="533" width="2" height="5" fill="#ff0000"/>
<rect x="546" y="533" width="2" height="18" fill="#ff0000"/>
<rect x="562" y="533" width="2" height="34" fill="#ff0000"/>
<rect x="578" y="533" width="2" height="46" fill="#ff0000"/>
<rect x="594" y="533" width="2" height="55" fill="#ff0000"/>
<rect x="610" y="533" width="2" height="55" fill="#ff0000"/>
<rect x="626" y="533" width="2" height="47" fill="#008000"/>
<rect x="642" y="533" width="2" height="31" fill="#008000"/>
<rect x="658" y="533" width="2" height="18" fill="#008000"/>
<rect x="674" y="533" width="2" height="6" fill="#008000"/>
<rect x="690" y="530" width="2" height="3" fill="#008000"/>
<rect x="706" y="528" width="2" height="5" fill="#008000"/>
<rect x="722" y="528" width="2" height="5" fill="#ff0000"/>
<rect x="738" y="528" width="2" height="5" fill="#008000"/>
<rect x="754" y="526" width="2" height="7" fill="#008000"/>
<rect x="770" y="524" width="2" height="9" fill="#008000"/>
<rect x="786" y="524" width="2" height="9" fill="#ff0000"/>
<rect x="802" y="530" width="2" height="3" fill="#ff0000"/>
<rect x="818" y="533" width="2" height="3" fill="#ff0000"/>
<rect x="834" y="533" width="2" height="10" fill="#ff0000"/>
<rect x="850" y="533" width="2" height="19" fill="#ff0000"/>
<rect x="866" y="533" width="2" height="22" fill="#ff0000"/>
<rect x="882" y="533" width="2" height="20" fill="#008000"/>
<rect x="898" y="533" width="2" height="18" fill="#008000"/>
<rect x="914" y="533" width="2" height="10" fill="#008000"/>
<rect x="930" y="528" width="2" height="5" fill="#008000"/>
<rect x="946" y="515" width="2" height="18" fill="#008000"/>
<rect x="962" y="506" width="2" height="27" fill="#008000"/>
<rect x="978" y="503" width="2" height="30" fill="#008000"/>
<rect x="994" y="507" width="2" height="26" fill="#ff0000"/>
<rect x="1010" y="514" width="2" height="19" fill="#ff0000"/>
<rect x="1026" y="520" width="2" height="13" fill="#ff0000"/>
<rect x="1042" y="526" width="2" height="7" fill="#ff0000"/>
<rect x="1058" y="529" width="2" height="4" fill="#ff0000"/>
<rect x="1074" y="530" width="2" height="3" fill="#ff0000"/>
<rect x="1090" y="533" width="2" height="3" fill="#ff0000"/>
<rect x="1106" y="533" width="2" height="7" fill="#ff0000"/>
<rect x="1122" y="533" width="2" height="10" fill="#ff0000"/>
<rect x="1138" y="533" width="2" height="10" fill="#008000"/>
<rect x="1154" y="533" width="2" height="8" fill="#008000"/>
<rect x="1170" y="533" width="2" height="6" fill="#008000"/>
<rect x="1186" y="533" width="2" height="1" fill="#008000"/>
<rect x="1202" y="523" width="2" height="10" fill="#008000"/>
<rect x="1218" y="518" width="2" height="15" fill="#008000"/>
</g>
<g shape-rendering="crispEdges">
<rect x="0" y="393" width="1617" height="1" fill="#fff"/>
<rect x="0" y="496" width="1617" height="1" fill="#fff"/>
<rect x="0" y="0" width="2" height="613" fill="#fff"/>
<rect x="1572" y="0" width="45" height="613" fill="#fff"/>
<rect x="0" y="593" width="1617" height="20" fill="#fff"/>
<rect x="0" y="0" width="1617" height="2" fill="#fff"/>
<rect x="195" y="393" width="1" height="1" fill="#000"/>
<rect x="195" y="496" width="1" height="1" fill="#000"/>
<rect x="515" y="393" width="1" height="1" fill="#000"/>
<rect x="515" y="496" width="1" height="1" fill="#000"/>
<rect x="867" y="393" width="1" height="1" fill="#000"/>
<rect x="867" y="496" width="1" height="1" fill="#000"/>
<rect x="1187" y="393" width="1" height="1" fill="#000"/>
<rect x="1187" y="496" width="1" height="1" fill="#000"/>
<rect x="2" y="2" width="1570" height="1" fill="#000"/>
<rect x="2" y="392" width="1570" height="1" fill="#000"/>
<rect x="2" y="2" width="1" height="391" fill="#000"/>
<rect x="1571" y="2" width="1" height="391" fill="#000"/>
<rect x="2" y="394" width="1570" height="1" fill="#000"/>
<rect x="2" y="495" width="1570" height="1" fill="#000"/>
<rect x="2" y="394" width="1" height="102" fill="#000"/>
<rect x="1571" y="394" width="1" height="102" fill="#000"/>
<rect x="2" y="497" width="1570" height="1" fill="#000"/>
<rect x="2" y="592" width="1570" height="1" fill="#000"/>
<rect x="2" y="497" width="1" height="96" fill="#000"/>
<rect x="1571" y="497" width="1" height="96" fill="#000"/>
<rect x="1572" y="26" width="2" height="1" fill="#000"/>
<rect x="1572" y="59" width="2" height="1" fill="#000"/>
<rect x="1572" y="92" width="2" height="1" fill="#000"/>
<rect x="1572" y="125" width="2" height="1" fill="#000"/>
<rect x="1572" y="158" width="2" height="1" fill="#000"/>
<rect x="1572" y="191" width="2" height="1" fill="#000"/>
<rect x="1572" y="224" width="2" height="1" fill="#000"/>
<rect x="1572" y="257" width="2" height="1" fill="#000"/>
<rect x="1572" y="290" width="2" height="1" fill="#000"/>
<rect x="1572" y="323" width="2" height="1" fill="#000"/>
<rect x="1572" y="356" width="2" height="1" fill="#000"/>
<rect x="1572" y="389" width="2" height="1" fill="#000"/>
<rect x="1572" y="449" width="2" height="1" fill="#000"/>
<rect x="1572" y="533" width="2" height="1" fill="#000"/>
<rect x="1572" y="396" width="1" height="1" fill="#000"/>
<rect x="1572" y="494" width="1" height="1" fill="#000"/>
<rect x="1572" y="499" width="1" height="1" fill="#000"/>
<rect x="1572" y="591" width="1" height="1" fill="#000"/>
<rect x="3" y="593" width="1" height="3" fill="#000"/>
<rect x="67" y="593" width="1" height="3" fill="#000"/>
<rect x="131" y="593" width="1" height="3" fill="#000"/>
<rect x="195" y="593" width="1" height="3" fill="#000"/>
<rect x="259" y="593" width="1" height="3" fill="#000"/>
<rect x="323" y="593" width="1" height="3" fill="#000"/>
<rect x="387" y="593" width="1" height="3" fill="#000"/>
<rect x="451" y="593" width="1" height="3" fill="#000"/>
<rect x="515" y="593" width="1" height="3" fill="#000"/>
<rect x="579" y="593" width="1" height="3" fill="#000"/>
<rect x="643" y="593" width="1" height="3" fill="#000"/>
<rect x="707" y="593" width="1" height="3" fill="#000"/>
<rect x="771" y="593" width="1" height="3" fill="#000"/>
<rect x="835" y="593" width="1" height="3" fill="#000"/>
<rect x="899" y="593" width="1" height="3" fill="#000"/>
<rect x="963" y="593" width="1" height="3" fill="#000"/>
<rect x="1027" y="593" width="1" height="3" fill="#000"/>
<rect x="1091" y="593" width="1" height="3" fill="#000"/>
<rect x="1155" y="593" width="1" height="3" fill="#000"/>
<rect x="1219" y="593" width="1" height="3" fill="#000"/>
<rect x="6" y="9" width="7" height="1" fill="#000"/>
<rect x="7" y="10" width="5" height="1" fill="#000"/>
<rect x="8" y="11" width="3" height="1" fill="#000"/>
<rect x="9" y="12" width="1" height="1" fill="#000"/>
<rect x="1573" y="41" width="41" height="11" fill="#006400"/>
<rect x="1573" y="76" width="41" height="11" fill="#006400"/>
<rect x="1573" y="211" width="41" height="11" fill="#000"/>
</g>
</svg>
<div class="t " style="left:17.9px;top:6.47px;transform:scaleX(0.9551);font-size:10.2px;">USDCAD,Daily</div>
<div class="t " style="left:89.9px;top:6.47px;transform:scaleX(0.8950);font-size:10.2px;">1.33031</div>
<div class="t " style="left:125.9px;top:6.47px;transform:scaleX(0.8950);font-size:10.2px;">1.33448</div>
<div class="t " style="left:161.9px;top:6.47px;transform:scaleX(0.8950);font-size:10.2px;">1.33020</div>
<div class="t " style="left:197.9px;top:6.47px;transform:scaleX(0.8950);font-size:10.2px;">1.33421</div>
<div class="t " style="left:8.2px;top:399.47px;transform:scaleX(0.9132);font-size:10.2px;">AO -0.000078</div>
<div class="t " style="left:8.2px;top:502.47px;transform:scaleX(0.9046);font-size:10.2px;">AC 0.0038858</div>
<div class="t " style="left:1577.4px;top:22.47px;transform:scaleX(0.8950);font-size:10.2px;">1.36565</div>
<div class="t " style="left:1577.4px;top:55.47px;transform:scaleX(0.8950);font-size:10.2px;">1.36025</div>
<div class="t " style="left:1577.4px;top:88.47px;transform:scaleX(0.8950);font-size:10.2px;">1.35470</div>
<div class="t " style="left:1577.4px;top:121.47px;transform:scaleX(0.8950);font-size:10.2px;">1.34930</div>
<div class="t " style="left:1577.4px;top:154.47px;transform:scaleX(0.8950);font-size:10.2px;">1.34390</div>
<div class="t " style="left:1577.4px;top:187.47px;transform:scaleX(0.8950);font-size:10.2px;">1.33835</div>
<div class="t " style="left:1577.4px;top:253.47px;transform:scaleX(0.8950);font-size:10.2px;">1.32740</div>
<div class="t " style="left:1577.4px;top:286.47px;transform:scaleX(0.8950);font-size:10.2px;">1.32200</div>
<div class="t " style="left:1577.4px;top:319.47px;transform:scaleX(0.8950);font-size:10.2px;">1.31660</div>
<div class="t " style="left:1577.4px;top:352.47px;transform:scaleX(0.9138);font-size:10.2px;">1.31105</div>
<div class="t " style="left:1577.4px;top:385.47px;transform:scaleX(0.8950);font-size:10.2px;">1.30565</div>
<div style="position:absolute;left:1572px;top:222px;width:45px;height:12px;overflow:hidden">
<div class="t " style="left:5.4px;top:-1.53px;transform:scaleX(0.8950);font-size:10.2px;">1.33295</div>
</div>
<div class="t w" style="left:1577.4px;top:42.47px;transform:scaleX(0.8950);font-size:10.2px;">1.36214</div>
<div class="t w" style="left:1577.4px;top:77.47px;transform:scaleX(0.8950);font-size:10.2px;">1.35636</div>
<div class="t w" style="left:1577.4px;top:212.47px;transform:scaleX(0.8950);font-size:10.2px;">1.33421</div>
<div class="t " style="left:1575.4px;top:397.47px;transform:scaleX(0.9003);font-size:10.2px;">0.028072</div>
<div class="t " style="left:1575.4px;top:445.47px;transform:scaleX(0.9319);font-size:10.2px;">0.00</div>
<div class="t " style="left:1574.9px;top:484.47px;transform:scaleX(0.9064);font-size:10.2px;">-0.02385</div>
<div class="t " style="left:1575.4px;top:500.47px;transform:scaleX(0.8980);font-size:10.2px;">0.0088896</div>
<div class="t " style="left:1575.4px;top:529.47px;transform:scaleX(0.9319);font-size:10.2px;">0.00</div>
<div class="t " style="left:1574.9px;top:581.47px;transform:scaleX(0.9009);font-size:10.2px;">-0.0150544</div>
<div class="t " style="left:2.4px;top:597.47px;transform:scaleX(0.9405);font-size:10.2px;">15 Nov 2018</div>
<div class="t " style="left:65.8px;top:597.47px;transform:scaleX(0.9405);font-size:10.2px;">21 Nov 2018</div>
<div class="t " style="left:129.8px;top:597.47px;transform:scaleX(0.9405);font-size:10.2px;">27 Nov 2018</div>
<div class="t " style="left:193.8px;top:597.47px;transform:scaleX(0.9105);font-size:10.2px;">3 Dec 2018</div>
<div class="t " style="left:257.8px;top:597.47px;transform:scaleX(0.9105);font-size:10.2px;">7 Dec 2018</div>
<div class="t " style="left:321.8px;top:597.47px;transform:scaleX(0.9094);font-size:10.2px;">13 Dec 2018</div>
<div class="t " style="left:385.8px;top:597.47px;transform:scaleX(0.9094);font-size:10.2px;">19 Dec 2018</div>
<div class="t " style="left:449.8px;top:597.47px;transform:scaleX(0.9094);font-size:10.2px;">26 Dec 2018</div>
<div class="t " style="left:513.8px;top:597.47px;transform:scaleX(0.8955);font-size:10.2px;">2 Jan 2019</div>
<div class="t " style="left:577.8px;top:597.47px;transform:scaleX(0.8955);font-size:10.2px;">8 Jan 2019</div>
<div class="t " style="left:641.8px;top:597.47px;transform:scaleX(0.8994);font-size:10.2px;">14 Jan 2019</div>
<div class="t " style="left:705.8px;top:597.47px;transform:scaleX(0.8994);font-size:10.2px;">18 Jan 2019</div>
<div class="t " style="left:769.8px;top:597.47px;transform:scaleX(0.8994);font-size:10.2px;">24 Jan 2019</div>
<div class="t " style="left:833.8px;top:597.47px;transform:scaleX(0.8994);font-size:10.2px;">30 Jan 2019</div>
<div class="t " style="left:897.8px;top:597.47px;transform:scaleX(0.9262);font-size:10.2px;">5 Feb 2019</div>
<div class="t " style="left:961.8px;top:597.47px;transform:scaleX(0.9200);font-size:10.2px;">11 Feb 2019</div>
<div class="t " style="left:1025.8px;top:597.47px;transform:scaleX(0.9078);font-size:10.2px;">15 Feb 2019</div>
<div class="t " style="left:1089.8px;top:597.47px;transform:scaleX(0.9078);font-size:10.2px;">21 Feb 2019</div>
<div class="t " style="left:1153.8px;top:597.47px;transform:scaleX(0.9078);font-size:10.2px;">27 Feb 2019</div>
<div class="t " style="left:1217.8px;top:597.47px;transform:scaleX(0.9070);font-size:10.2px;">5 Mar 2019</div>
</body></html>
